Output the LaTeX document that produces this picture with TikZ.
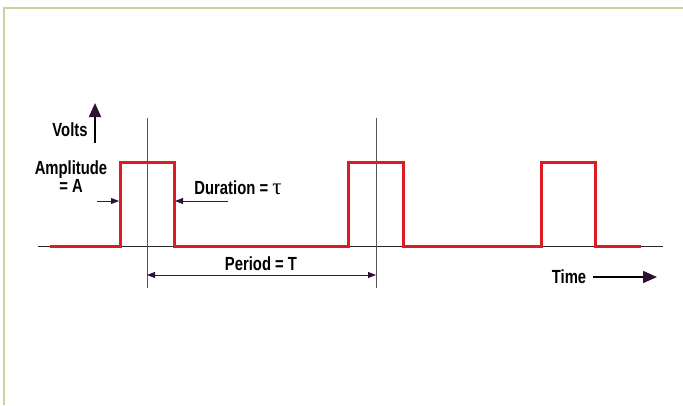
\documentclass[tikz,border=0pt]{standalone}
\usepackage{fontspec}
\newfontfamily\lblfont[FakeStretch=0.78]{Liberation Sans}
\newfontfamily\greekfont{Liberation Serif}
\usetikzlibrary{arrows.meta}
\definecolor{Frame}{HTML}{CDD19C}
\definecolor{Pulse}{HTML}{DC1C22}
\definecolor{Tip}{HTML}{2E1236}
\definecolor{Guide}{HTML}{555555}

\begin{document}
\begin{tikzpicture}[x=1pt,y=-1pt,
  lbl/.style={font=\lblfont\bfseries\fontsize{19}{16}\selectfont,inner sep=0pt},
  frame/.style={draw=Frame,line width=2pt},
  axis/.style={draw=black!85,line width=0.8pt},
  guide/.style={draw=Guide,line width=1pt},
  signal/.style={draw=Pulse,line width=3pt},
  dim/.style={draw=black!85,line width=0.8pt,-{Triangle[length=8pt,width=6pt,color=Tip]}},
  bigarrow/.style={draw=black,-{Triangle[length=14pt,width=12pt,color=Tip]}}
]
\useasboundingbox (0,0) rectangle (683,405);
\draw[frame] (4,405) -- (4,8) -- (683,8);
% time axis and guides
\coordinate (a0) at (38,246);
\coordinate (a1) at (663,246);
\draw[axis] (a0) -- (a1);
\foreach \n/\x in {g1/147,g2/376} {
  \coordinate (\n t) at (\x,118);
  \coordinate (\n b) at (\x,288);
  \draw[guide] (\n t) -- (\n b);
}
% pulse train
\draw[signal] (50,246) -| (120,162) -| (174,246) -| (348,162) -| (403,246)
  -| (541,162) -| (595,246) -- (641,246);
% labels
\node[lbl] (volts) at (70,130) {Volts};
\node[lbl,align=center] (amp) at (71,177) {Amplitude\\= A};
\node[lbl] (dur) at (238,188) {Duration = {\greekfont\mdseries\fontsize{23}{16}\selectfont τ}};
\node[lbl] (per) at (261,264) {Period = T};
\node[lbl] (time) at (569,277) {Time};
% arrows
\coordinate (v0) at (95,143);
\coordinate (v1) at (95,103);
\draw[bigarrow,line width=2pt] (v0) -- (v1);
\coordinate (t0) at (593,277);
\coordinate (t1) at (657,277);
\draw[bigarrow,line width=1.6pt] (t0) -- (t1);
\coordinate (d0) at (97,201);
\coordinate (d1) at (119,201);
\coordinate (d2) at (228,201);
\coordinate (d3) at (175,201);
\draw[dim] (d0) -- (d1);
\draw[dim] (d2) -- (d3);
\coordinate (p0) at (147,275);
\coordinate (p1) at (376,275);
\draw[dim,{Triangle[length=8pt,width=6pt,color=Tip]}-{Triangle[length=8pt,width=6pt,color=Tip]}] (p0) -- (p1);
\end{tikzpicture}
\end{document}
